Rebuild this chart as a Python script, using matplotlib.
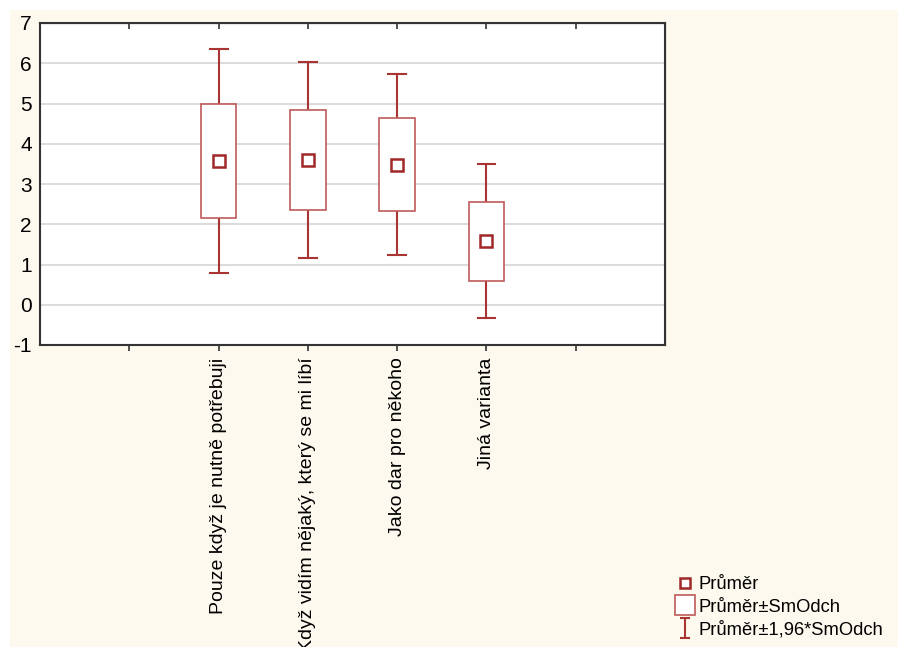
import matplotlib

matplotlib.use("Agg")
import matplotlib.pyplot as plt
import numpy as np
from matplotlib.lines import Line2D
from matplotlib.patches import Rectangle
from matplotlib.path import Path

plt.rcParams["font.family"] = ["Liberation Sans", "DejaVu Sans"]
plt.rcParams["axes.unicode_minus"] = False

categories = [
    "Pouze když je nutně potřebuji",
    "Když vidím nějaký, který se mi líbí",
    "Jako dar pro někoho",
    "Jiná varianta",
]
means = [3.58, 3.59, 3.48, 1.58]
std_devs = [1.42, 1.24, 1.15, 0.98]
positions = [2, 3, 4, 5]

BG_COLOR = "#fef9ee"
BOX_COLOR = "#c05a5a"
WHISKER_COLOR = "#a83434"
MEAN_COLOR = "#a02828"
GRID_COLOR = "#dcdcdc"

BOX_WIDTH = 0.40
CAP_HALF = 0.10

fig = plt.figure(figsize=(8.98, 6.47), dpi=100)
fig.patch.set_facecolor("white")
fig.add_artist(
    Rectangle(
        (10 / 898, 0), 1, 637 / 647,
        transform=fig.transFigure, facecolor=BG_COLOR, edgecolor="none", zorder=0,
    )
)

ax = fig.add_axes([40 / 898, 1 - 345 / 647, 625 / 898, 322 / 647])
ax.set_facecolor("white")

mean_arr = np.array(means)
sd_arr = np.array(std_devs)
box_lo = mean_arr - sd_arr
box_hi = mean_arr + sd_arr
wh_lo = mean_arr - 1.96 * sd_arr
wh_hi = mean_arr + 1.96 * sd_arr

for x, m, bl, bh, wl, wh in zip(positions, means, box_lo, box_hi, wh_lo, wh_hi):
    # whiskers with caps
    ax.plot([x, x], [bh, wh], color=WHISKER_COLOR, lw=1.5, zorder=3)
    ax.plot([x, x], [wl, bl], color=WHISKER_COLOR, lw=1.5, zorder=3)
    ax.plot([x - CAP_HALF, x + CAP_HALF], [wh, wh], color=WHISKER_COLOR, lw=1.5, zorder=3)
    ax.plot([x - CAP_HALF, x + CAP_HALF], [wl, wl], color=WHISKER_COLOR, lw=1.5, zorder=3)
    ax.add_patch(
        Rectangle(
            (x - BOX_WIDTH / 2, bl), BOX_WIDTH, bh - bl,
            facecolor="white", edgecolor=BOX_COLOR, lw=1.2, zorder=4,
        )
    )
    ax.plot(
        x, m, marker="s", markersize=8, markerfacecolor="white",
        markeredgecolor=MEAN_COLOR, markeredgewidth=1.8, zorder=5,
    )

ax.set_xlim(0, 7)
ax.set_ylim(-1, 7)
ax.set_yticks(range(-1, 8))
ax.set_xticks([1, 2, 3, 4, 5, 6])
ax.set_xticklabels([""] + categories + [""], rotation=90, fontsize=14)
ax.tick_params(axis="y", labelsize=15, length=0, pad=6)
ax.tick_params(axis="x", direction="out", length=4, width=1.2, pad=5, color="#333333")
for spine in ax.spines.values():
    spine.set_linewidth(1.5)
    spine.set_color("#333333")
ax.grid(axis="y", color=GRID_COLOR, lw=1.5, zorder=0)
ax.set_axisbelow(True)

# top and right ticks point inward
secx = ax.secondary_xaxis("top")
secx.set_xticks([1, 2, 3, 4, 5, 6])
secx.set_xticklabels([])
secx.tick_params(direction="in", length=4, width=1.2, color="#333333")
secy = ax.secondary_yaxis("right")
secy.set_yticks(range(-1, 8))
secy.set_yticklabels([])
secy.tick_params(direction="in", length=4, width=1.2, color="#333333")

# legend
whisker_marker = Path(
    [(-0.5, -1), (0.5, -1), (0, -1), (0, 1), (-0.5, 1), (0.5, 1)],
    [Path.MOVETO, Path.LINETO, Path.MOVETO, Path.LINETO, Path.MOVETO, Path.LINETO],
)
handles = [
    Line2D([], [], ls="none", marker="s", markersize=7, markerfacecolor="white",
           markeredgecolor=MEAN_COLOR, markeredgewidth=1.8),
    Line2D([], [], ls="none", marker="s", markersize=14, markerfacecolor="white",
           markeredgecolor=BOX_COLOR, markeredgewidth=1.2),
    Line2D([], [], ls="none", marker=whisker_marker, markersize=15,
           markeredgecolor=WHISKER_COLOR, markeredgewidth=1.5),
]
labels = ["Průměr", "Průměr±SmOdch", "Průměr±1,96*SmOdch"]
fig.legend(
    handles, labels, loc="lower left", bbox_to_anchor=(668 / 898, 1 / 647),
    frameon=False, fontsize=13.2, handlelength=1.1, handletextpad=0.15,
    labelspacing=0.3, borderaxespad=0,
)

fig.savefig("out.png", dpi=100, facecolor=fig.get_facecolor())
